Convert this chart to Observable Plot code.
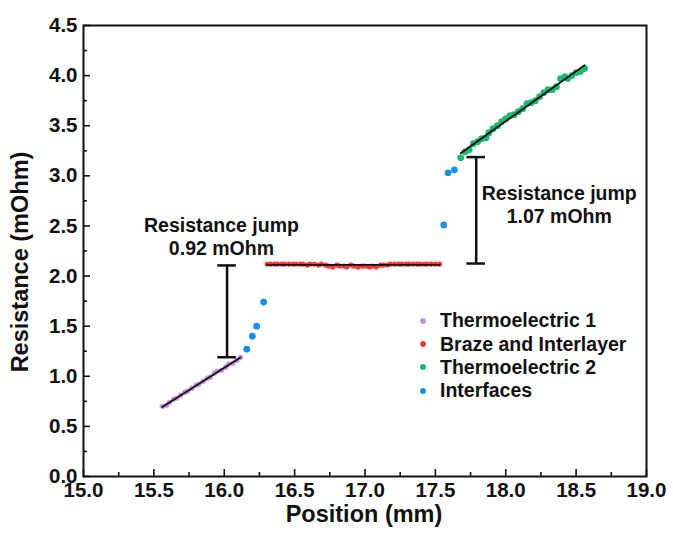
<!DOCTYPE html>
<html>
<head>
<meta charset="utf-8">
<script src="https://cdn.jsdelivr.net/npm/d3@7"></script>
<script src="https://cdn.jsdelivr.net/npm/@observablehq/plot@0.6"></script>
<style>
  html, body { margin: 0; padding: 0; background: #fff; }
  #wrap { position: relative; width: 673px; height: 533px; font-family: "Liberation Sans", Arial, sans-serif; color: #111; }
  #legend { position: absolute; left: 417px; top: 309px; font-weight: bold; font-size: 19.5px; }
  #legend .row { display: flex; align-items: center; height: 23.4px; white-space: nowrap; }
  #legend .sw { width: 6px; height: 6px; border-radius: 50%; margin: 0 14px 0 3px; }
  .title { position: absolute; font-weight: bold; font-size: 23.5px; white-space: nowrap; line-height: 1; }
  #ytitle { left: 21px; top: 262px; transform: translate(-50%, -50%) rotate(-90deg); }
  #xtitle { left: 364px; top: 515px; transform: translate(-50%, -50%); }
</style>
</head>
<body>
<div id="wrap"><div id="legend"></div><div class="title" id="ytitle"></div><div class="title" id="xtitle"></div></div>
<script>
// ---- data ----
const xTitle = "Position (mm)";
const yTitle = "Resistance (mOhm)";

const te1X = [15.56,15.59,15.61,15.64,15.66,15.69,15.72,15.74,15.77,15.80,15.82,15.85,15.88,15.90,15.93,15.95,15.98,16.01,16.03,16.06,16.09,16.115];
const te1R = [0.70,0.71,0.74,0.77,0.78,0.81,0.84,0.85,0.88,0.91,0.92,0.95,0.98,0.99,1.03,1.05,1.06,1.09,1.12,1.13,1.16,1.19];

const brazeX = [16.305,16.33,16.36,16.38,16.41,16.43,16.46,16.49,16.51,16.54,16.56,16.59,16.61,16.64,16.67,16.69,16.72,16.74,16.77,16.80,16.82,16.85,16.87,16.90,16.92,16.95,16.98,17.00,17.03,17.05,17.08,17.11,17.13,17.16,17.18,17.21,17.24,17.26,17.29,17.31,17.34,17.37,17.39,17.42,17.44,17.47,17.50,17.53];
const brazeR = [2.12,2.12,2.12,2.12,2.12,2.12,2.12,2.12,2.12,2.12,2.12,2.11,2.12,2.12,2.11,2.12,
                2.11,2.10,2.09,2.11,2.10,2.10,2.09,2.11,2.10,2.09,2.10,2.10,2.09,2.10,2.09,2.11,
                2.11,2.11,2.12,2.12,2.12,2.12,2.12,2.12,2.12,2.12,2.12,2.12,2.12,2.12,2.12,2.12];

const te2X = [17.68,17.71,17.74,17.77,17.80,17.83,17.86,17.88,17.91,17.94,17.97,18.00,18.03,18.06,18.09,18.12,18.15,18.18,18.21,18.24,18.27,18.30,18.33,18.36,18.39,18.42,18.44,18.47,18.50,18.53,18.56];
const te2R = [3.18,3.24,3.26,3.32,3.34,3.37,3.38,3.43,3.47,3.50,3.54,3.57,3.60,3.61,3.64,3.67,3.72,3.73,3.75,3.79,3.83,3.86,3.86,3.89,3.97,3.99,3.97,4.00,4.03,4.04,4.07];

const interX = [16.16,16.20,16.23,16.28,17.56,17.59,17.635];
const interR = [1.27,1.40,1.50,1.74,2.51,3.03,3.06];

const seriesNames = ["Thermoelectric 1","Braze and Interlayer","Thermoelectric 2","Interfaces"];
const seriesColors = ["#c794e2","#f03c3c","#1fb574","#1a8fe8"];

// resistance jumps: position, low and high resistance
const jumpX = [16.02, 17.79];
const jumpLow = [1.19, 2.125];
const jumpHigh = [2.106, 3.187];
const capHalf = 0.066;

const annotX = [15.98, 15.98, 18.38, 18.38];
const annotY = [2.50, 2.27, 2.82, 2.59];
const annotText = ["Resistance jump","0.92 mOhm","Resistance jump","1.07 mOhm"];

const xTicks = [15.0,15.5,16.0,16.5,17.0,17.5,18.0,18.5,19.0];
const xMinor = [15.25,15.75,16.25,16.75,17.25,17.75,18.25,18.75];
const yTicks = [0.0,0.5,1.0,1.5,2.0,2.5,3.0,3.5,4.0,4.5];
const yMinor = [0.25,0.75,1.25,1.75,2.25,2.75,3.25,3.75,4.25];

// ---- build tables ----
const zip = (xs, ys) => xs.map((x, i) => ({x, y: ys[i]}));
const te1 = zip(te1X, te1R), braze = zip(brazeX, brazeR), te2 = zip(te2X, te2R), inter = zip(interX, interR);
const jumps = jumpX.map((x, i) => ({x, lo: jumpLow[i], hi: jumpHigh[i]}));
const caps = jumps.flatMap(d => [{x1: d.x - capHalf, x2: d.x + capHalf, y: d.lo}, {x1: d.x - capHalf, x2: d.x + capHalf, y: d.hi}]);
const annots = annotX.map((x, i) => ({x, y: annotY[i], text: annotText[i]}));

const blank = () => "";
const chart = Plot.plot({
  width: 673,
  height: 533,
  marginLeft: 83,
  marginRight: 27,
  marginTop: 25,
  marginBottom: 57,
  style: {fontFamily: "Liberation Sans, Arial, sans-serif", fontWeight: "bold", color: "#111", background: "#fff"},
  x: {domain: [15, 19]},
  y: {domain: [0, 4.5]},
  marks: [
    Plot.frame({stroke: "#111", strokeWidth: 2}),
    Plot.axisX(xTicks, {tickSize: -7, tickFormat: blank, label: null, strokeWidth: 1.6}),
    Plot.axisX(xMinor, {tickSize: -4, tickFormat: blank, label: null, strokeWidth: 1.6}),
    Plot.axisX(xTicks, {tickSize: 0, tickPadding: 6, tickFormat: d => d.toFixed(1), fontSize: 20.5, fontWeight: "bold", label: null}),
    Plot.axisY(yTicks, {tickSize: -7, tickFormat: blank, label: null, strokeWidth: 1.6}),
    Plot.axisY(yMinor, {tickSize: -4, tickFormat: blank, label: null, strokeWidth: 1.6}),
    Plot.axisY(yTicks, {tickSize: 0, tickPadding: 6, tickFormat: d => d.toFixed(1), fontSize: 20.5, fontWeight: "bold", label: null}),
    Plot.dot(te1, {x: "x", y: "y", r: 2.7, fill: seriesColors[0]}),
    Plot.dot(braze, {x: "x", y: "y", r: 2.6, fill: seriesColors[1]}),
    Plot.dot(te2, {x: "x", y: "y", r: 3.4, fill: seriesColors[2]}),
    Plot.dot(inter, {x: "x", y: "y", r: 3.4, fill: seriesColors[3]}),
    Plot.linearRegressionY(te1, {x: "x", y: "y", stroke: "#111", strokeWidth: 1.8, ci: 0}),
    Plot.linearRegressionY(braze, {x: "x", y: "y", stroke: "#111", strokeWidth: 1.8, ci: 0}),
    Plot.linearRegressionY(te2, {x: "x", y: "y", stroke: "#111", strokeWidth: 1.8, ci: 0}),
    Plot.ruleX(jumps, {x: "x", y1: "lo", y2: "hi", stroke: "#111", strokeWidth: 2.5}),
    Plot.ruleY(caps, {y: "y", x1: "x1", x2: "x2", stroke: "#111", strokeWidth: 2.5}),
    Plot.text(annots, {x: "x", y: "y", text: "text", fontSize: 19.5, fontWeight: "bold", fill: "#111"})
  ]
});
document.getElementById("wrap").prepend(chart);
document.getElementById("xtitle").textContent = xTitle;
document.getElementById("ytitle").textContent = yTitle;

const legend = document.getElementById("legend");
seriesNames.forEach((name, i) => {
  const row = document.createElement("div");
  row.className = "row";
  const sw = document.createElement("span");
  sw.className = "sw";
  sw.style.background = seriesColors[i];
  row.appendChild(sw);
  row.appendChild(document.createTextNode(name));
  legend.appendChild(row);
});
</script>
</body>
</html>
